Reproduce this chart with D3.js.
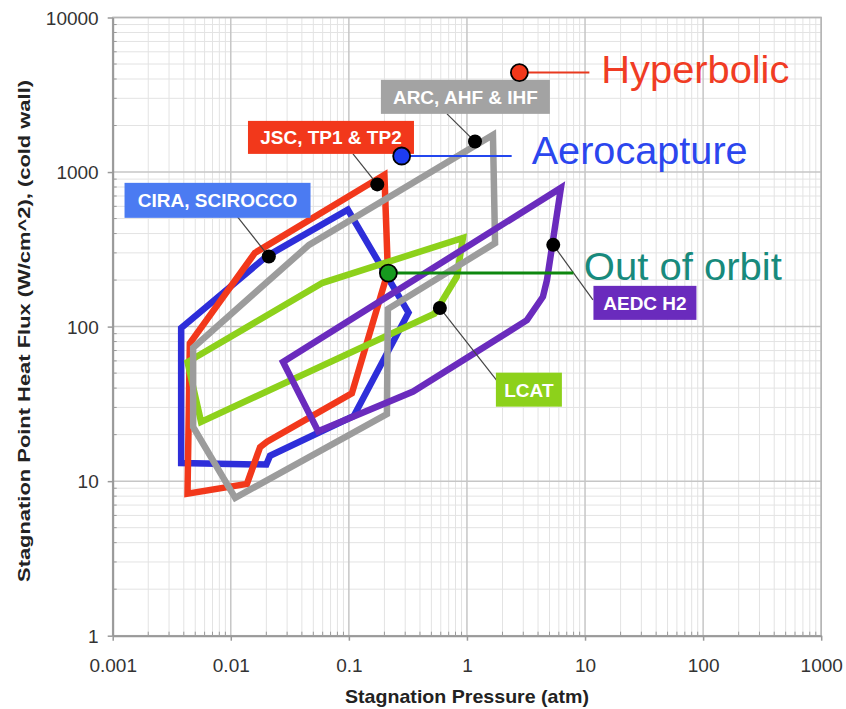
<!DOCTYPE html>
<html>
<head>
<meta charset="utf-8">
<script src="https://cdn.jsdelivr.net/npm/d3@7/dist/d3.min.js"></script>
<style>
  body { margin: 0; background: #fff; }
  svg { display: block; font-family: Arial, "Liberation Sans", Helvetica, sans-serif; }
</style>
</head>
<body>
<svg id="chart" width="846" height="709"></svg>
<script>
// Facility operating envelopes: stagnation pressure (atm) vs cold-wall heat flux (W/cm^2)
const ciraPressure = [0.0038, 0.0038, 0.020, 0.0215, 0.11, 0.32, 0.098, 0.020];
const ciraHeat     = [98, 13.1, 12.8, 14.6, 26.4, 123, 570, 284];

const jscPressure = [0.20, 0.214, 0.106, 0.0203, 0.0177, 0.0137, 0.0043, 0.0045, 0.016];
const jscHeat     = [960, 226, 37, 18, 16.6, 9.6, 8.3, 78, 300];

const lcatPressure = [0.0043, 0.0056, 0.53, 0.82, 0.925, 0.060];
const lcatHeat     = [59, 24.2, 121, 210, 375, 192];

const arcPressure = [1.66, 1.73, 0.214, 0.21, 0.0109, 0.0048, 0.0048, 0.046];
const arcHeat     = [1740, 347, 130, 27.2, 7.8, 22.4, 73, 338];

const aedcPressure = [6.25, 4.76, 4.40, 3.22, 0.35, 0.055, 0.0277];
const aedcHeat     = [790, 200, 156, 110, 38, 21, 59];

// Facility names and the envelope point each callout points to
const facilityNames    = ["CIRA, SCIROCCO", "JSC, TP1 & TP2", "ARC, AHF & IHF", "AEDC H2", "LCAT"];
const facilityPressure = [0.021, 0.174, 1.17, 5.38, 0.59];
const facilityHeat     = [284, 832, 1575, 338, 132];

// Entry regimes
const regimeNames    = ["Hyperbolic", "Aerocapture", "Out of orbit"];
const regimePressure = [2.78, 0.28, 0.216];
const regimeHeat     = [4400, 1270, 222];

// Axis ticks
const xTicks = [0.001, 0.01, 0.1, 1, 10, 100, 1000];
const xTickLabels = ["0.001", "0.01", "0.1", "1", "10", "100", "1000"];
const yTicks = [1, 10, 100, 1000, 10000];
const yTickLabels = ["1", "10", "100", "1000", "10000"];

const svg = d3.select("#chart");
const plotLeft = 112.7, plotRight = 821.2, plotTop = 17.5, plotBottom = 635.7;

const x = d3.scaleLog().domain([0.001, 1000]).range([plotLeft, plotRight]);
const y = d3.scaleLog().domain([1, 10000]).range([plotBottom, plotTop]);

svg.append("rect").attr("width", 846).attr("height", 709).attr("fill", "#fff");

// minor values 2..9 within each decade
const xMinor = [], yMinor = [];
for (let e = -3; e < 3; e++) for (let m = 2; m <= 9; m++) xMinor.push(m * Math.pow(10, e));
for (let e = 0; e < 4; e++) for (let m = 2; m <= 9; m++) yMinor.push(m * Math.pow(10, e));

const grid = svg.append("g");
grid.selectAll(".vminor").data(xMinor).join("line")
  .attr("x1", d => x(d)).attr("x2", d => x(d)).attr("y1", plotTop).attr("y2", plotBottom)
  .attr("stroke", "#e3e3e3").attr("stroke-width", 1);
grid.selectAll(".hminor").data(yMinor).join("line")
  .attr("y1", d => y(d)).attr("y2", d => y(d)).attr("x1", plotLeft).attr("x2", plotRight)
  .attr("stroke", "#e3e3e3").attr("stroke-width", 1);
grid.selectAll(".vmajor").data(xTicks).join("line")
  .attr("x1", d => x(d)).attr("x2", d => x(d)).attr("y1", plotTop).attr("y2", plotBottom)
  .attr("stroke", "#c6c6c6").attr("stroke-width", 1.5);
grid.selectAll(".hmajor").data(yTicks).join("line")
  .attr("y1", d => y(d)).attr("y2", d => y(d)).attr("x1", plotLeft).attr("x2", plotRight)
  .attr("stroke", "#c6c6c6").attr("stroke-width", 1.5);

// minor tick marks inside the frame
grid.selectAll(".xmt").data(xMinor).join("line")
  .attr("x1", d => x(d)).attr("x2", d => x(d)).attr("y1", plotBottom).attr("y2", plotBottom - 4)
  .attr("stroke", "#999").attr("stroke-width", 1);
grid.selectAll(".ymt").data(yMinor).join("line")
  .attr("y1", d => y(d)).attr("y2", d => y(d)).attr("x1", plotLeft).attr("x2", plotLeft + 4)
  .attr("stroke", "#999").attr("stroke-width", 1);

// frame
svg.append("rect").attr("x", plotLeft).attr("y", plotTop)
  .attr("width", plotRight - plotLeft).attr("height", plotBottom - plotTop)
  .attr("fill", "none").attr("stroke", "#b5b5b5").attr("stroke-width", 1.5);

// axes
const yAxis = d3.axisLeft(y).tickValues(yTicks).tickFormat((d, i) => yTickLabels[i])
  .tickSizeInner(5).tickSizeOuter(0).tickPadding(9);
const gy = svg.append("g").attr("transform", `translate(${plotLeft},0)`).call(yAxis);
const xAxis = d3.axisBottom(x).tickValues(xTicks).tickFormat((d, i) => xTickLabels[i])
  .tickSizeInner(5).tickSizeOuter(0);
const gx = svg.append("g").attr("transform", `translate(0,${plotBottom})`).call(xAxis);
[gx, gy].forEach(g => {
  g.select(".domain").attr("stroke", "#999").attr("stroke-width", 2);
  g.selectAll(".tick line").attr("stroke", "#999").attr("stroke-width", 1.5);
  g.selectAll(".tick text").attr("fill", "#333").style("font-size", "19px");
});
gx.selectAll(".tick text").attr("y", 36.3).attr("dy", 0);
gy.selectAll(".tick text").attr("dy", "0.36em");

// axis titles
svg.append("text").attr("x", 467).attr("y", 703).attr("text-anchor", "middle")
  .style("font-size", "19px").style("font-weight", "bold").attr("fill", "#222")
  .attr("textLength", 244).attr("lengthAdjust", "spacingAndGlyphs")
  .text("Stagnation Pressure (atm)");
svg.append("text").attr("transform", "translate(30,331) rotate(-90)").attr("text-anchor", "middle")
  .style("font-size", "17px").style("font-weight", "bold").attr("fill", "#222")
  .attr("textLength", 502).attr("lengthAdjust", "spacingAndGlyphs")
  .text("Stagnation Point Heat Flux (W/cm^2), (cold wall)");

// envelopes
const envelopes = [
  { p: ciraPressure, q: ciraHeat, color: "#2e2ed9" },
  { p: jscPressure,  q: jscHeat,  color: "#f2381b" },
  { p: lcatPressure, q: lcatHeat, color: "#8dd11b" },
  { p: arcPressure,  q: arcHeat,  color: "#9c9c9c" },
  { p: aedcPressure, q: aedcHeat, color: "#6a2bbd" }
];
const line = d3.line().x(d => x(d[0])).y(d => y(d[1])).curve(d3.curveLinearClosed);
const plot = svg.append("g");
envelopes.forEach(env => {
  plot.append("path")
    .datum(env.p.map((v, i) => [v, env.q[i]]))
    .attr("d", line)
    .attr("fill", "none").attr("stroke", env.color).attr("stroke-width", 6.5)
    .attr("stroke-linejoin", "miter").attr("stroke-miterlimit", 3);
});

// facility callouts: box centre and leader end offsets in pixels from the marked point
const callouts = [
  { fill: "#4b7bf2", box: [-51.3, -56.2], size: [186, 35], lead: [-31.3, -39.7] },
  { fill: "#f2381b", box: [-46.3, -47],   size: [166, 33], lead: [-24.3, -30.5] },
  { fill: "#a3a3a3", box: [-9.6, -44.7],  size: [169, 34], lead: [-28, -27.7] },
  { fill: "#6a2bbd", box: [91.7, 58],     size: [103, 34], lead: [39.7, 55] },
  { fill: "#8dd11b", box: [89, 81.7],     size: [66, 34],  lead: [57, 72.7] }
];
const ann = svg.append("g");
facilityNames.forEach((name, i) => {
  const cx = x(facilityPressure[i]), cy = y(facilityHeat[i]);
  const c = callouts[i];
  const bx = cx + c.box[0], by = cy + c.box[1];
  ann.append("line").attr("x1", cx).attr("y1", cy)
    .attr("x2", cx + c.lead[0]).attr("y2", cy + c.lead[1])
    .attr("stroke", "#444").attr("stroke-width", 1.2);
  ann.append("rect").attr("x", bx - c.size[0] / 2).attr("y", by - c.size[1] / 2)
    .attr("width", c.size[0]).attr("height", c.size[1]).attr("fill", c.fill);
  ann.append("text").attr("x", bx).attr("y", by).attr("dy", "0.36em")
    .attr("text-anchor", "middle").attr("fill", "#fff")
    .style("font-size", "19px").style("font-weight", "bold").text(name);
  ann.append("circle").attr("cx", cx).attr("cy", cy).attr("r", 7).attr("fill", "#000");
});

// entry regime markers with leader and label
const regimeStyle = [
  { fill: "#f2381b", lineColor: "#e8391f", textColor: "#f03c24", lineLen: 70,  textDx: 82,    width: 188, lw: 2 },
  { fill: "#1d3cf2", lineColor: "#2346ef", textColor: "#2b46ee", lineLen: 110, textDx: 130,   width: 216, lw: 2 },
  { fill: "#169a1e", lineColor: "#0d870f", textColor: "#188a7c", lineLen: 185, textDx: 195.5, width: 198, lw: 3 }
];
const textBase = [10.6, 8.3, 6.7];
regimeNames.forEach((name, i) => {
  const cx = x(regimePressure[i]), cy = y(regimeHeat[i]);
  const s = regimeStyle[i];
  ann.append("line").attr("x1", cx).attr("y1", cy).attr("x2", cx + s.lineLen).attr("y2", cy)
    .attr("stroke", s.lineColor).attr("stroke-width", s.lw);
  ann.append("circle").attr("cx", cx).attr("cy", cy).attr("r", 8.5)
    .attr("fill", s.fill).attr("stroke", "#000").attr("stroke-width", 1.8);
  ann.append("text").attr("x", cx + s.textDx).attr("y", cy + textBase[i])
    .attr("fill", s.textColor).style("font-size", "38px")
    .attr("textLength", s.width).attr("lengthAdjust", "spacingAndGlyphs")
    .text(name);
});
</script>
</body>
</html>
